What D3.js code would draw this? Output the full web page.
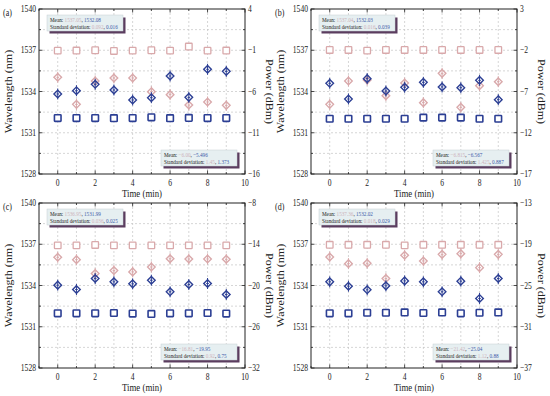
<!DOCTYPE html>
<html>
<head>
<meta charset="utf-8">
<script src="https://cdn.jsdelivr.net/npm/d3@7"></script>
<style>
  body { margin: 0; background: #fff; }
  svg { display: block; font-family: "Liberation Serif", "Times New Roman", serif; }
</style>
</head>
<body>
<svg id="chart" width="550" height="396"></svg>
<script>
// time axis (min)
var times = [0, 1, 2, 3, 4, 5, 6, 7, 8, 9];
var panelNames = ['(a)', '(b)', '(c)', '(d)'];

// wavelength (nm), series 1 (pink) and series 2 (blue)
var wlA1 = [1536.97, 1536.98, 1537.0, 1536.95, 1536.97, 1537.0, 1536.97, 1537.27, 1536.97, 1536.98];
var wlA2 = [1532.07, 1532.07, 1532.07, 1532.06, 1532.07, 1532.12, 1532.06, 1532.08, 1532.07, 1532.07];
var wlB1 = [1537.02, 1537.02, 1536.97, 1537.02, 1537.02, 1537.02, 1537.02, 1537.02, 1537.02, 1537.02];
var wlB2 = [1532.02, 1532.02, 1532.02, 1532.02, 1532.02, 1532.1, 1532.1, 1532.1, 1532.02, 1532.02];
var wlC1 = [1536.92, 1536.92, 1536.95, 1536.92, 1536.92, 1536.92, 1536.92, 1536.92, 1536.92, 1536.92];
var wlC2 = [1531.98, 1531.98, 1531.98, 1532.0, 1531.96, 1531.93, 1531.98, 1531.98, 1532.0, 1531.96];
var wlD1 = [1536.96, 1536.96, 1536.96, 1536.96, 1536.92, 1536.96, 1536.96, 1536.96, 1536.96, 1536.96];
var wlD2 = [1531.98, 1531.98, 1532.02, 1532.02, 1532.04, 1532.0, 1532.04, 1531.98, 1532.02, 1532.04];

// power (dBm), series 1 (pink) and series 2 (blue)
var pwA1 = [-4.28, -7.56, -4.73, -4.36, -4.36, -6.02, -6.38, -7.64, -7.27, -7.68];
var pwA2 = [-6.30, -5.90, -5.13, -5.82, -7.03, -6.75, -4.12, -6.71, -3.31, -3.56];
var pwB1 = [-8.56, -5.73, -5.61, -7.51, -5.97, -8.35, -4.80, -8.92, -6.29, -5.81];
var pwB2 = [-6.01, -7.91, -5.44, -6.94, -6.49, -5.89, -6.45, -6.54, -5.65, -7.99];
var pwC1 = [-15.90, -16.24, -18.27, -17.83, -18.02, -17.30, -16.10, -16.14, -16.14, -16.19];
var pwC2 = [-19.95, -20.58, -18.99, -19.47, -19.76, -19.23, -20.92, -19.86, -19.71, -21.30];
var pwD1 = [-20.86, -21.82, -21.77, -23.99, -20.61, -21.43, -20.47, -20.37, -22.40, -20.47];
var pwD2 = [-24.47, -25.10, -25.63, -25.05, -24.33, -24.47, -25.92, -24.37, -26.88, -23.99];

// axis ticks
var timeTicks = [0, 2, 4, 6, 8, 10];
var wlTicks = [1528, 1531, 1534, 1537, 1540];
var pwTicksA = [4, -1, -6, -11, -16];
var pwTicksB = [3, -2, -7, -12, -17];
var pwTicksC = [-8, -14, -20, -26, -32];
var pwTicksD = [-13, -19, -25, -31, -37];

// statistics boxes: [pink value, blue value]
var wlMean = [['1537.05', '1532.08'], ['1537.04', '1532.03'], ['1536.95', '1531.99'], ['1537.36', '1532.02']];
var wlStd = [['0.092', '0.016'], ['0.016', '0.039'], ['0.036', '0.025'], ['0.018', '0.029']];
var pwMean = [['\u22126.00', '\u22125.496'], ['\u22126.815', '\u22126.567'], ['\u221216.81', '\u221219.95'], ['\u221221.42', '\u221225.04']];
var pwStd = [['1.45', '1.373'], ['1.425', '0.887'], ['0.92', '0.75'], ['1.12', '0.88']];

var pink = '#d9a9ab', blue = '#2c3f94';
var pinkText = '#cdb3bb', blueText = '#3d5aa8';

var panels = [
  { wl1: wlA1, wl2: wlA2, pw1: pwA1, pw2: pwA2, pwTicks: pwTicksA, left: 39, top: 9 },
  { wl1: wlB1, wl2: wlB2, pw1: pwB1, pw2: pwB2, pwTicks: pwTicksB, left: 311, top: 9 },
  { wl1: wlC1, wl2: wlC2, pw1: pwC1, pw2: pwC2, pwTicks: pwTicksC, left: 39, top: 203 },
  { wl1: wlD1, wl2: wlD2, pw1: pwD1, pw2: pwD2, pwTicks: pwTicksD, left: 311, top: 203 }
];

var W = 206, H = 165;
var SX = 0.8; // text in the source is squeezed horizontally
var svg = d3.select('#chart');
var fmt = function(v) { return v < 0 ? '\u2212' + Math.abs(v) : String(v); };
var at = function(x, y) { return 'translate(' + x + ',' + y + ') scale(' + SX + ',1)'; };

panels.forEach(function(p, i) {
  var g = svg.append('g').attr('transform', 'translate(' + p.left + ',' + p.top + ')');

  var x = d3.scaleLinear().domain([-1, 10]).range([0, W]);
  var y = d3.scaleLinear().domain([1528, 1540]).range([H, 0]);
  var y2 = d3.scaleLinear().domain(d3.extent(p.pwTicks)).range([H, 0]);

  // dashed grid
  var gridX = d3.range(0, 10, 1);
  var gridY = d3.range(1529.5, 1540, 1.5);
  g.selectAll('.gx').data(gridX).enter().append('line')
    .attr('x1', x).attr('x2', x).attr('y1', 0).attr('y2', H)
    .style('stroke', '#c4c4c4').style('stroke-width', 0.7).style('stroke-dasharray', '2,2');
  g.selectAll('.gy').data(gridY).enter().append('line')
    .attr('x1', 0).attr('x2', W).attr('y1', y).attr('y2', y)
    .style('stroke', '#c4c4c4').style('stroke-width', 0.7).style('stroke-dasharray', '2,2');

  // wavelength squares
  function squares(vals, col, sw) {
    g.append('g').selectAll('rect').data(vals).enter().append('rect')
      .attr('x', function(d, j) { return x(times[j]) - 3.3; })
      .attr('y', function(d) { return y(d) - 3.3; })
      .attr('width', 6.6).attr('height', 6.6).attr('rx', 0.6)
      .style('fill', '#fff').style('stroke', col).style('stroke-width', sw);
  }
  squares(p.wl1, pink, 1.3);
  squares(p.wl2, blue, 1.6);

  // power diamonds
  function diamonds(vals, col) {
    var m = g.append('g').selectAll('g').data(vals).enter().append('g')
      .attr('transform', function(d, j) { return 'translate(' + x(times[j]) + ',' + y2(d) + ')'; });
    m.append('path').attr('d', 'M0,-5.5V5.5M-1.3,0H1.3')
      .style('stroke', col).style('stroke-width', 1);
    m.append('path').attr('d', 'M0,-3.8L3.8,0L0,3.8L-3.8,0Z')
      .style('fill', 'none').style('stroke', col).style('stroke-width', 1.4);
  }
  diamonds(p.pw1, pink);
  diamonds(p.pw2, blue);

  // statistics boxes
  function statBox(bx, by, meanV, stdV) {
    var bw = 76, bh = 16;
    var b = g.append('g').attr('transform', 'translate(' + bx + ',' + by + ')');
    b.append('rect').attr('x', 2.5).attr('y', 2.5).attr('width', bw).attr('height', bh).style('fill', '#5b3d5f');
    b.append('rect').attr('width', bw).attr('height', bh)
      .style('fill', '#e6eff1').style('stroke', '#c5d0d4').style('stroke-width', 0.5);
    var rows = [['Mean: ', meanV], ['Standard deviation: ', stdV]];
    rows.forEach(function(r, k) {
      var t = b.append('text').attr('transform', at(3, 6.5 + k * 7.2))
        .style('font-size', '6.5px').style('fill', '#222');
      t.append('tspan').text(r[0]);
      t.append('tspan').style('fill', pinkText).text(r[1][0]);
      t.append('tspan').text(', ');
      t.append('tspan').style('fill', blueText).text(r[1][1]);
    });
  }
  statBox(8, 6, wlMean[i], wlStd[i]);
  statBox(W - 84, H - 24, pwMean[i], pwStd[i]);

  // frame
  g.append('rect').attr('width', W).attr('height', H)
    .style('fill', 'none').style('stroke', '#222').style('stroke-width', 1);

  // ticks (inward) on all sides
  var tk = g.append('g').style('stroke', '#222').style('stroke-width', 0.8);
  d3.range(-1, 11, 1).forEach(function(t) {
    var len = (t % 2 === 0) ? 3.5 : 2;
    tk.append('line').attr('x1', x(t)).attr('x2', x(t)).attr('y1', H).attr('y2', H - len);
    tk.append('line').attr('x1', x(t)).attr('x2', x(t)).attr('y1', 0).attr('y2', len);
  });
  d3.range(1528, 1540.1, 1.5).forEach(function(t) {
    var len = ((t - 1528) % 3 === 0) ? 3.5 : 2;
    tk.append('line').attr('x1', 0).attr('x2', len).attr('y1', y(t)).attr('y2', y(t));
    tk.append('line').attr('x1', W).attr('x2', W - len).attr('y1', y(t)).attr('y2', y(t));
  });

  // tick labels
  g.selectAll('.tx').data(timeTicks).enter().append('text')
    .attr('transform', function(d) { return at(x(d), H + 11.5); }).attr('text-anchor', 'middle')
    .style('font-size', '9.5px').style('fill', '#222').text(fmt);
  g.selectAll('.ty').data(wlTicks).enter().append('text')
    .attr('transform', function(d) { return at(-3, y(d) + 3.2); }).attr('text-anchor', 'end')
    .style('font-size', '9.5px').style('fill', '#222').text(fmt);
  g.selectAll('.ty2').data(p.pwTicks).enter().append('text')
    .attr('transform', function(d) { return at(W + 3, y2(d) + 3.2); })
    .style('font-size', '9.5px').style('fill', '#222').text(fmt);

  // axis titles
  g.append('text').attr('transform', at(W / 2, H + 23)).attr('text-anchor', 'middle')
    .style('font-size', '11px').style('fill', '#222').text('Time (min)');
  g.append('text').attr('transform', 'translate(-27,' + (H / 2) + ') rotate(-90) scale(1,' + SX + ')')
    .attr('text-anchor', 'middle').style('font-size', '12px').style('fill', '#222').text('Wavelength (nm)');
  g.append('text').attr('transform', 'translate(' + (W + 21) + ',' + (H / 2) + ') rotate(90) scale(1,' + SX + ')')
    .attr('text-anchor', 'middle').style('font-size', '12px').style('fill', '#222').text('Power (dBm)');

  g.append('text').attr('transform', at(-36, 7)).style('font-size', '10px').style('fill', '#222').text(panelNames[i]);
});
</script>
</body>
</html>
